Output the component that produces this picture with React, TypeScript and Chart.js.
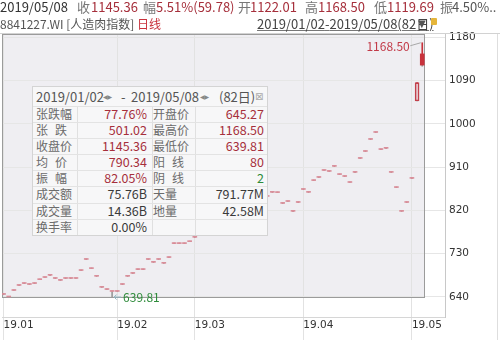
import React, { useEffect, useRef } from "react";
import { Chart, registerables } from "chart.js";

Chart.register(...registerables);

// ---------------- data ----------------
const dates = [
  "2019/01/02", "2019/01/03", "2019/01/04", "2019/01/07", "2019/01/08", "2019/01/09", "2019/01/10", "2019/01/11",
  "2019/01/14", "2019/01/15", "2019/01/16", "2019/01/17", "2019/01/18", "2019/01/21", "2019/01/22", "2019/01/23",
  "2019/01/24", "2019/01/25", "2019/01/28", "2019/01/29", "2019/01/30", "2019/01/31",
  "2019/02/01", "2019/02/11", "2019/02/12", "2019/02/13", "2019/02/14", "2019/02/15", "2019/02/18", "2019/02/19",
  "2019/02/20", "2019/02/21", "2019/02/22", "2019/02/25", "2019/02/26", "2019/02/27", "2019/02/28",
  "2019/03/01", "2019/03/04", "2019/03/05", "2019/03/06", "2019/03/07", "2019/03/08", "2019/03/11", "2019/03/12",
  "2019/03/13", "2019/03/14", "2019/03/15", "2019/03/18", "2019/03/19", "2019/03/20", "2019/03/21", "2019/03/22",
  "2019/03/25", "2019/03/26", "2019/03/27", "2019/03/28", "2019/03/29",
  "2019/04/01", "2019/04/02", "2019/04/03", "2019/04/04", "2019/04/08", "2019/04/09", "2019/04/10", "2019/04/11",
  "2019/04/12", "2019/04/15", "2019/04/16", "2019/04/17", "2019/04/18", "2019/04/19", "2019/04/22", "2019/04/23",
  "2019/04/24", "2019/04/25", "2019/04/26", "2019/04/29", "2019/04/30",
  "2019/05/06", "2019/05/07", "2019/05/08",
];

const opens = [
  645.27, 640, 653.5, 664, 668, 666, 668, 676, 680.5, 685, 678.5, 674.5, 678.5, 678.5, 678.5, 695, 718, 699, 683, 660,
  655.5, 651.5, 651.5, 666, 683, 689, 697, 697, 718, 712, 718, 710, 722, 751, 751, 751, 755, 764, 771, 784,
  795, 791, 805, 814, 811, 819, 827, 825, 835, 841, 845, 849, 857.5, 857, 834.5, 838.5, 818, 836.5, 863.5, 857.5,
  882, 888.5, 903, 901, 911.5, 894.5, 890.5, 878, 899, 928, 942.5, 967.5, 982, 946.5, 949, 899, 867.5, 818, 836.5, 886.5,
  1047.5, 1122.01,
];

const closes = [
  646.5, 641, 654.5, 665, 669, 667, 669, 677, 681.5, 686, 679.5, 675.5, 679.5, 679.5, 679.5, 696, 719, 700, 684, 661,
  656.5, 652.5, 652.5, 667, 684, 690, 698, 698, 719, 713, 719, 711, 723, 752, 752, 752, 756, 765, 772, 785,
  796, 792, 806, 815, 810, 820, 828, 824, 836, 842, 846, 850, 858.5, 858, 835.5, 839.5, 819, 837.5, 864.5, 858.5,
  883, 889.5, 904, 902, 912.5, 895.5, 891.5, 879, 900, 929, 943.5, 968.5, 983, 947.5, 950, 900, 868.5, 819, 837.5, 887.5,
  1085.58, 1145.36,
];

const highs = [
  646.5, 641, 654.5, 665, 669, 667, 669, 677, 681.5, 686, 679.5, 675.5, 679.5, 679.5, 679.5, 696, 719, 700, 684, 661,
  656.5, 652.5, 652.5, 667, 684, 690, 698, 698, 719, 713, 719, 711, 723, 752, 752, 752, 756, 765, 772, 785,
  796, 792, 806, 815, 811, 820, 828, 825, 836, 842, 846, 850, 858.5, 858, 835.5, 839.5, 819, 837.5, 864.5, 858.5,
  883, 889.5, 904, 902, 912.5, 895.5, 891.5, 879, 900, 929, 943.5, 968.5, 983, 947.5, 950, 900, 868.5, 819, 837.5, 887.5,
  1085.58, 1168.5,
];

const lows = [
  645.27, 640, 653.5, 664, 668, 666, 668, 676, 680.5, 685, 678.5, 674.5, 678.5, 678.5, 678.5, 695, 718, 699, 683, 660,
  655.5, 639.81, 651.5, 666, 683, 689, 697, 697, 718, 712, 718, 710, 722, 751, 751, 751, 755, 764, 771, 784,
  795, 791, 805, 814, 810, 819, 827, 824, 835, 841, 845, 849, 857.5, 857, 834.5, 838.5, 818, 836.5, 863.5, 857.5,
  882, 888.5, 903, 901, 911.5, 894.5, 890.5, 878, 899, 928, 942.5, 967.5, 982, 946.5, 949, 899, 867.5, 818, 836.5, 886.5,
  1047.5, 1119.69,
];

const yTicks = [640, 730, 820, 910, 1000, 1090, 1180];
const monthLabels = ["19.01", "19.02", "19.03", "19.04", "19.05"];

const statRows = [
  ["张跌幅", "77.76%", "开盘价", "645.27"],
  ["张 跌", "501.02", "最高价", "1168.50"],
  ["收盘价", "1145.36", "最低价", "639.81"],
  ["均 价", "790.34", "阳 线", "80"],
  ["振 幅", "82.05%", "阴 线", "2"],
  ["成交额", "75.76B", "天量", "791.77M"],
  ["成交量", "14.36B", "地量", "42.58M"],
  ["换手率", "0.00%", "", ""],
];
const statTones = [
  ["up", "up"], ["up", "up"], ["up", "up"], ["up", "up"],
  ["up", "down"], ["flat", "flat"], ["flat", "flat"], ["flat", "flat"],
];

// ---------------- styles ----------------
const CJK = '"Noto Sans CJK SC", "Noto Sans", sans-serif';
const AXIS_FONT = '"DejaVu Sans", sans-serif';
const UP_FILL = "#c8323c";
const UP_LINE = "#c2404c";
const UP_DASH = "#d98e9a";
const DOWN = "#2f9a44";
const RED_TEXT = "#a62f3b";
const GREEN_TEXT = "#2e8b3a";

const n = closes.length;
const monthStartIdx = dates.reduce<number[]>((acc, d, i) => {
  if (i === 0 || d.slice(5, 7) !== dates[i - 1].slice(5, 7)) acc.push(i);
  return acc;
}, []);

function boxRect(chart: any) {
  const { chartArea, scales } = chart;
  return {
    l: Math.round(chartArea.left),
    t: Math.round(chartArea.top),
    r: Math.round(scales.x.getPixelForValue(n - 1) + 2.5),
    b: Math.round(scales.y.getPixelForValue(Math.min(...lows))),
  };
}

const framePlugin = {
  id: "frame",
  beforeDraw(chart: any) {
    const ctx = chart.ctx;
    const b = boxRect(chart);
    ctx.save();
    ctx.fillStyle = "#efeef2";
    ctx.fillRect(b.l, b.t, b.r - b.l, b.b - b.t);
    ctx.restore();
  },
  beforeDatasetsDraw(chart: any) {
    const ctx = chart.ctx;
    const b = boxRect(chart);
    ctx.save();
    ctx.strokeStyle = "#9b9b9b";
    ctx.lineWidth = 1;
    ctx.strokeRect(b.l + 0.5, b.t + 0.5, b.r - b.l - 1, b.b - b.t);
    ctx.restore();
  },
  afterDatasetsDraw(chart: any) {
    const ctx = chart.ctx;
    const x = chart.scales.x;
    const y = chart.scales.y;
    const maxH = Math.max(...highs);
    const minL = Math.min(...lows);
    const hi = highs.indexOf(maxH);
    const lo = lows.indexOf(minL);
    const xh = x.getPixelForValue(hi);
    const yh = y.getPixelForValue(maxH);
    const xl = x.getPixelForValue(lo);
    const yl = y.getPixelForValue(minL);
    ctx.save();
    ctx.strokeStyle = "#a8a8a8";
    ctx.lineWidth = 1;
    ctx.beginPath();
    ctx.moveTo(xh - 12, yh + 3);
    ctx.lineTo(xh - 1.5, yh);
    ctx.stroke();
    ctx.font = `12px ${CJK}`;
    ctx.fillStyle = "#c23a48";
    ctx.textAlign = "right";
    ctx.textBaseline = "middle";
    ctx.fillText(maxH.toFixed(2), xh - 12.5, yh + 4);
    ctx.strokeStyle = "#8fb4c0";
    ctx.beginPath();
    ctx.moveTo(xl + 2, yl);
    ctx.lineTo(xl + 9, yl);
    ctx.moveTo(xl + 4.5, yl - 2.5);
    ctx.lineTo(xl + 2, yl);
    ctx.lineTo(xl + 4.5, yl + 2.5);
    ctx.stroke();
    ctx.fillStyle = GREEN_TEXT;
    ctx.textAlign = "left";
    ctx.fillText(minL.toFixed(2), xl + 11, yl);
    ctx.restore();
  },
  afterDraw(chart: any) {
    const ctx = chart.ctx;
    ctx.save();
    ctx.strokeStyle = "#d2d2d2";
    ctx.lineWidth = 1;
    ctx.beginPath();
    ctx.moveTo(0, 33.5);
    ctx.lineTo(500, 33.5);
    ctx.stroke();
    ctx.strokeStyle = "#dedede";
    ctx.beginPath();
    ctx.moveTo(497.5, 34);
    ctx.lineTo(497.5, 340);
    ctx.stroke();
    ctx.restore();
  },
};

function isHollow(i: number) {
  return i !== n - 1 && Math.abs(closes[i] - opens[i]) > 10;
}
function bodyFill(i: number) {
  if (closes[i] < opens[i]) return DOWN;
  if (i === n - 1) return UP_FILL;
  if (isHollow(i)) return "rgba(0,0,0,0)";
  return UP_DASH;
}

function Txt(props: { x: number; y: number; size?: number; color?: string; children: any; style?: any }) {
  const { x, y, size = 13, color = "#333", children, style } = props;
  return (
    <span
      style={{
        position: "absolute",
        left: x,
        top: y,
        fontSize: size,
        lineHeight: "16px",
        color,
        whiteSpace: "nowrap",
        fontFamily: CJK,
        ...style,
      }}
    >
      {children}
    </span>
  );
}

function toneColor(t: string) {
  if (t === "up") return RED_TEXT;
  if (t === "down") return GREEN_TEXT;
  return "#3a3a3a";
}

function StatLabel({ text }: { text: string }) {
  const parts = text.split(" ");
  if (parts.length === 2) {
    return (
      <>
        <span>{parts[0]}</span>
        <span style={{ marginLeft: 7 }}>{parts[1]}</span>
      </>
    );
  }
  return <span>{text}</span>;
}

function StatTable() {
  const rowH = 16.17;
  const row0 = 18.6;
  const inner = 234;
  const cols = [44, 119, 162];
  return (
    <div
      style={{
        position: "absolute",
        left: 32,
        top: 86,
        width: 236,
        height: 150,
        boxSizing: "border-box",
        border: "1px solid #d4d4d4",
        background: "#f7f7f8",
        fontFamily: CJK,
      }}
    >
      <Txt x={3} y={1.5} color="#555">{dates[0]}</Txt>
      <Txt x={70} y={2} size={6} color="#888" style={{ fontFamily: AXIS_FONT }}>◀▶</Txt>
      <Txt x={88} y={1.5} color="#555">-</Txt>
      <Txt x={98} y={1.5} color="#555">{dates[n - 1]}</Txt>
      <Txt x={167} y={2} size={6} color="#888" style={{ fontFamily: AXIS_FONT }}>◀▶</Txt>
      <Txt x={186} y={1.5} color="#555">({n}日)</Txt>
      <Txt x={222} y={1.5} size={10} color="#aaa" style={{ fontFamily: AXIS_FONT }}>⊠</Txt>
      {cols.map((c) => (
        <div
          key={c}
          style={{ position: "absolute", left: c, top: row0, width: 0, height: rowH * 8, borderLeft: "1px solid #e0e0e0" }}
        />
      ))}
      {statRows.map((row, r) => {
        const top = row0 + r * rowH;
        const base = { position: "absolute" as const, top, height: rowH, lineHeight: `${rowH}px`, whiteSpace: "nowrap" as const };
        return (
          <React.Fragment key={r}>
            <div style={{ position: "absolute", left: 0, width: inner, top, height: 0, borderTop: "1px solid #e3e3e3" }} />
            <div style={{ ...base, left: 3, fontSize: 12, color: "#6b6b6b" }}>
              <StatLabel text={row[0]} />
            </div>
            <div style={{ ...base, right: inner - 114, fontSize: 12.5, color: toneColor(statTones[r][0]) }}>{row[1]}</div>
            <div style={{ ...base, left: 120, fontSize: 12, color: "#6b6b6b" }}>
              <StatLabel text={row[2]} />
            </div>
            <div style={{ ...base, right: inner - 231, fontSize: 12.5, color: toneColor(statTones[r][1]) }}>{row[3]}</div>
          </React.Fragment>
        );
      })}
    </div>
  );
}

export default function App() {
  const ref = useRef<HTMLCanvasElement>(null);

  useEffect(() => {
    const idx = closes.map((_, i) => i);
    const chart = new Chart(ref.current as HTMLCanvasElement, {
      type: "bar",
      data: {
        datasets: [
          {
            label: "body",
            data: idx.map((i) => ({ x: i, y: [opens[i], closes[i]] })) as any,
            barThickness: 4,
            minBarLength: 1,
            borderSkipped: false,
            backgroundColor: (c: any) => bodyFill(c.dataIndex),
            borderColor: (c: any) => (isHollow(c.dataIndex) ? UP_LINE : "rgba(0,0,0,0)"),
            borderWidth: (c: any) => (isHollow(c.dataIndex) ? 1 : 0),
          },
          {
            label: "upper",
            data: idx.map((i) => ({ x: i, y: [Math.max(opens[i], closes[i]), highs[i]] })) as any,
            barThickness: 1,
            borderWidth: 0,
            backgroundColor: UP_FILL,
          },
          {
            label: "lower",
            data: idx.map((i) => ({ x: i, y: [lows[i], Math.min(opens[i], closes[i])] })) as any,
            barThickness: 1,
            borderWidth: 0,
            backgroundColor: "#9a9a9a",
          },
        ],
      },
      options: {
        animation: false,
        responsive: false,
        events: [],
        layout: { padding: { left: 2, top: 34, right: 0, bottom: 0 } },
        plugins: { legend: { display: false }, tooltip: { enabled: false } },
        scales: {
          x: {
            type: "linear",
            min: -0.3,
            max: 85.4,
            offset: false,
            stacked: true,
            afterFit: (s: any) => {
              s.height = 23;
            },
            afterBuildTicks: (s: any) => {
              s.ticks = monthStartIdx.map((v) => ({ value: v }));
            },
            grid: { offset: false, color: "#e2e2e2", tickLength: 23, drawTicks: true },
            border: { display: true, color: "#d6d6d6" },
            ticks: {
              autoSkip: false,
              maxRotation: 0,
              align: "start",
              padding: -21.5,
              color: "#333",
              font: { family: AXIS_FONT, size: 10.5 },
              callback: (v: any) => monthLabels[monthStartIdx.indexOf(Number(v))] ?? "",
            },
          },
          y: {
            type: "linear",
            position: "right",
            min: 598.4,
            max: 1186.7,
            afterFit: (s: any) => {
              s.width = 55;
            },
            afterBuildTicks: (s: any) => {
              s.ticks = yTicks.map((v) => ({ value: v }));
            },
            grid: { color: "#e6e6e6", drawTicks: false },
            border: { display: true, color: "#c8c8c8" },
            ticks: {
              padding: 4,
              color: "#333",
              font: { family: AXIS_FONT, size: 10.5 },
              callback: (v: any) => String(v),
            },
          },
        },
      } as any,
      plugins: [framePlugin],
    });
    return () => chart.destroy();
  }, []);

  return (
    <div
      style={{
        position: "fixed",
        left: 0,
        top: 0,
        width: 500,
        height: 340,
        background: "#fff",
        overflow: "hidden",
        fontFamily: CJK,
      }}
    >
      <canvas ref={ref} width={500} height={340} style={{ position: "absolute", left: 0, top: 0, width: 500, height: 340 }} />

      <Txt x={0} y={-1} color="#333">{dates[n - 1]}</Txt>
      <Txt x={77} y={-1} color="#777">收</Txt>
      <Txt x={91} y={-1} color={RED_TEXT}>1145.36</Txt>
      <Txt x={143} y={-1} color="#777">幅</Txt>
      <Txt x={156} y={-1} color={RED_TEXT}>5.51%(59.78)</Txt>
      <Txt x={238} y={-1} color="#777">开</Txt>
      <Txt x={250} y={-1} color={RED_TEXT}>1122.01</Txt>
      <Txt x={305} y={-1} color="#777">高</Txt>
      <Txt x={318} y={-1} color={RED_TEXT}>1168.50</Txt>
      <Txt x={374} y={-1} color="#777">低</Txt>
      <Txt x={387} y={-1} color={RED_TEXT}>1119.69</Txt>
      <Txt x={440} y={-1} color="#777">振</Txt>
      <Txt x={452} y={-1} color="#555">4.50%..</Txt>

      <Txt x={0} y={16.3} size={12} color="#555">
        8841227.WI [人造肉指数] <span style={{ color: UP_FILL }}>日线</span>
      </Txt>
      <Txt x={257} y={16.3} color="#444" style={{ textDecoration: "underline", textDecorationColor: "#777" }}>
        {dates[0]}-{dates[n - 1]}({n}日)
      </Txt>
      <Txt x={418} y={16.3} size={10} color="#555" style={{ fontFamily: AXIS_FONT }}>▼</Txt>
      <div style={{ position: "absolute", left: 431, top: 18, width: 6, height: 7, background: "#e5b53a", borderRadius: 1 }} />

      <StatTable />
    </div>
  );
}
